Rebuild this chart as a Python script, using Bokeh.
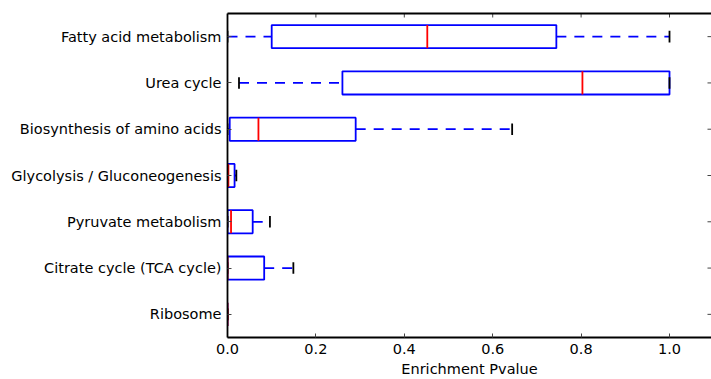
from bokeh.plotting import figure
from bokeh.models import (ColumnDataSource, FactorRange, Range1d, LinearAxis,
                          FixedTicker, PrintfTickFormatter)
from bokeh.transform import dodge
from bokeh.embed import file_html
from bokeh.resources import INLINE

# Data (top to bottom as shown)
categories = ["Fatty acid metabolism", "Urea cycle", "Biosynthesis of amino acids",
              "Glycolysis / Gluconeogenesis", "Pyruvate metabolism",
              "Citrate cycle (TCA cycle)", "Ribosome"]
whisker_low = [0.0, 0.026, 0.0, 0.0, 0.0, 0.0, 0.0]
q1 = [0.100, 0.260, 0.005, 0.0, 0.0, 0.0, 0.0]
median = [0.452, 0.803, 0.070, 0.002, 0.008, 0.0, 0.0]
q3 = [0.744, 1.0, 0.290, 0.016, 0.057, 0.083, 0.0]
whisker_high = [1.0, 1.0, 0.644, 0.020, 0.096, 0.149, 0.0]
x_ticks = [0.0, 0.2, 0.4, 0.6, 0.8, 1.0]
X_END = 1.095

FONT = "DejaVu Sans"
FS = "14.5px"
LW = 1.8

src = ColumnDataSource(dict(cat=categories, lo=whisker_low, q1=q1, med=median,
                            q3=q3, hi=whisker_high))

p = figure(width=711, height=379, output_backend="svg", toolbar_location=None,
           y_range=FactorRange(factors=list(reversed(categories)), range_padding=0),
           x_range=Range1d(0, X_END),
           min_border_left=227, min_border_right=0, min_border_top=13,
           min_border_bottom=42)
p.outline_line_color = None
p.xgrid.visible = False
p.ygrid.visible = False

# boxes
p.hbar(y="cat", left="q1", right="q3", height=0.5, source=src,
       fill_color=None, line_color="blue", line_width=LW)
# whiskers
p.segment(x0="lo", x1="q1", y0="cat", y1="cat", source=src,
          line_color="blue", line_width=LW, line_dash="10 8")
p.segment(x0="q3", x1="hi", y0="cat", y1="cat", source=src,
          line_color="blue", line_width=LW, line_dash="10 8")
# caps
ylo = dodge("cat", -0.125, range=p.y_range)
yhi = dodge("cat", 0.125, range=p.y_range)
p.segment(x0="lo", x1="lo", y0=ylo, y1=yhi, source=src, line_color="black", line_width=LW)
p.segment(x0="hi", x1="hi", y0=ylo, y1=yhi, source=src, line_color="black", line_width=LW)
# medians
mlo = dodge("cat", -0.25, range=p.y_range)
mhi = dodge("cat", 0.25, range=p.y_range)
p.segment(x0="med", x1="med", y0=mlo, y1=mhi, source=src, line_color="red", line_width=LW)

# inward ticks on top and right spines
top_src = ColumnDataSource(dict(x=x_ticks, cat=[categories[0]] * len(x_ticks)))
p.segment(x0="x", x1="x", y0=dodge("cat", 0.5, range=p.y_range),
          y1=dodge("cat", 0.5 - 4 / 46.3, range=p.y_range), source=top_src,
          line_color="#444444", line_width=1)
right_src = ColumnDataSource(dict(cat=categories, x0=[X_END] * len(categories),
                                  x1=[X_END - 4 / 442] * len(categories)))
p.segment(x0="x0", x1="x1", y0="cat", y1="cat", source=right_src,
          line_color="#444444", line_width=1)

def style(ax):
    ax.axis_line_color = "black"
    ax.axis_line_width = LW
    ax.major_tick_in = 4
    ax.major_tick_out = 0
    ax.minor_tick_line_color = None
    ax.major_tick_line_color = "#444444"
    ax.major_label_text_font = FONT
    ax.major_label_text_font_size = FS
    ax.major_label_text_color = "black"

xa = p.xaxis[0]
xa.ticker = FixedTicker(ticks=x_ticks)
xa.formatter = PrintfTickFormatter(format="%.1f")
style(xa)
xa.major_label_standoff = 6
xa.axis_label = "Enrichment Pvalue"
xa.axis_label_text_font = FONT
xa.axis_label_text_font_size = FS
xa.axis_label_text_font_style = "normal"
xa.axis_label_text_color = "black"
xa.axis_label_standoff = 4

ya = p.yaxis[0]
style(ya)
ya.major_label_standoff = 6

top = LinearAxis(ticker=FixedTicker(ticks=[]))
top.axis_line_color = "black"
top.axis_line_width = LW
top.major_tick_in = 0
top.major_tick_out = 0
top.minor_tick_line_color = None
p.add_layout(top, "above")

open("out.html", "w").write(file_html(p, INLINE))
